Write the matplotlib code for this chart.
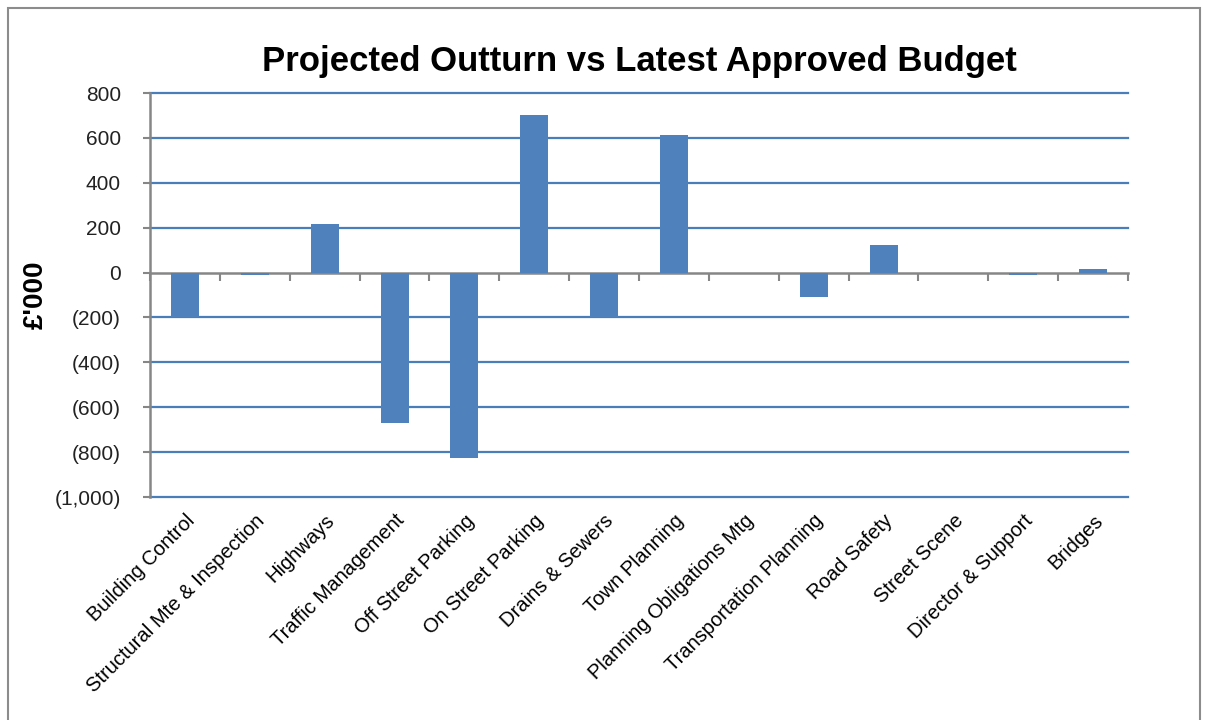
import matplotlib
matplotlib.use("Agg")
import matplotlib.pyplot as plt
from matplotlib.patches import Rectangle
from matplotlib.ticker import FuncFormatter
import numpy as np

categories = ["Building Control", "Structural Mte & Inspection", "Highways",
              "Traffic Management", "Off Street Parking", "On Street Parking",
              "Drains & Sewers", "Town Planning", "Planning Obligations Mtg",
              "Transportation Planning", "Road Safety", "Street Scene",
              "Director & Support", "Bridges"]
variance = [-200, -10, 216, -668, -828, 703, -200, 612, 0, -107, 122, 0, -10, 15]
y_ticks = [800, 600, 400, 200, 0, -200, -400, -600, -800, -1000]

bar_col = "#4F81BD"
grid_col = "#4A7EBB"
axis_col = "#868686"


def paren_fmt(v, pos):
    # accounting style: negatives in brackets
    if v < 0:
        return f"({abs(v):,.0f})"
    return f"{v:,.0f}"


fig = plt.figure(figsize=(12.07, 7.2), dpi=100)
ax = fig.add_axes([0.1243, 0.3097, 0.8103, 0.5611])

x = np.arange(len(categories))
ax.bar(x, variance, width=0.4, color=bar_col, zorder=3)

ax.set_xlim(-0.5, len(categories) - 0.5)
ax.set_ylim(-1000, 800)
ax.set_yticks(y_ticks)
ax.yaxis.set_major_formatter(FuncFormatter(paren_fmt))
for t in y_ticks:
    if t != 0:
        ax.axhline(t, color=grid_col, linewidth=1.6, zorder=1, clip_on=False)

ax.set_xticks(x)
ax.set_xticklabels(categories, rotation=45, ha="right", rotation_mode="anchor",
                   fontsize=14.5, family="Liberation Sans")
ax.tick_params(axis="x", length=0, pad=10)
ax.tick_params(axis="y", direction="out", length=5, width=1.5, color=axis_col,
               labelsize=15, pad=16)
for lab in ax.get_yticklabels():
    lab.set_family("Liberation Sans")
    lab.set_color("#222222")

for s in ["top", "right", "bottom"]:
    ax.spines[s].set_visible(False)
ax.spines["left"].set_color(axis_col)
ax.spines["left"].set_linewidth(1.8)
ax.spines["left"].set_zorder(4)

# zero axis with category boundary ticks
zero_frac = (0 - (-1000)) / 1800
sec = ax.secondary_xaxis(zero_frac)
sec.set_alignment("bottom")
sec.set_xticks(np.arange(len(categories) + 1) - 0.5)
sec.set_xticklabels([])
sec.tick_params(direction="out", length=6, width=1.5, color=axis_col)
sec.spines["bottom"].set_color(axis_col)
sec.spines["bottom"].set_linewidth(1.8)

ax.set_title("Projected Outturn vs Latest Approved Budget", fontsize=25,
             fontweight="bold", family="Liberation Sans", pad=16)
ax.set_ylabel("£'000", fontsize=20, fontweight="bold", family="Liberation Sans",
              labelpad=4)

fig.patches.append(Rectangle((8 / 1207, -0.05), 1192 / 1207, 1.05 - 8 / 720,
                             transform=fig.transFigure, fill=False,
                             edgecolor="#8C8C8C", linewidth=1.5))

fig.savefig("out.png", dpi=100)
